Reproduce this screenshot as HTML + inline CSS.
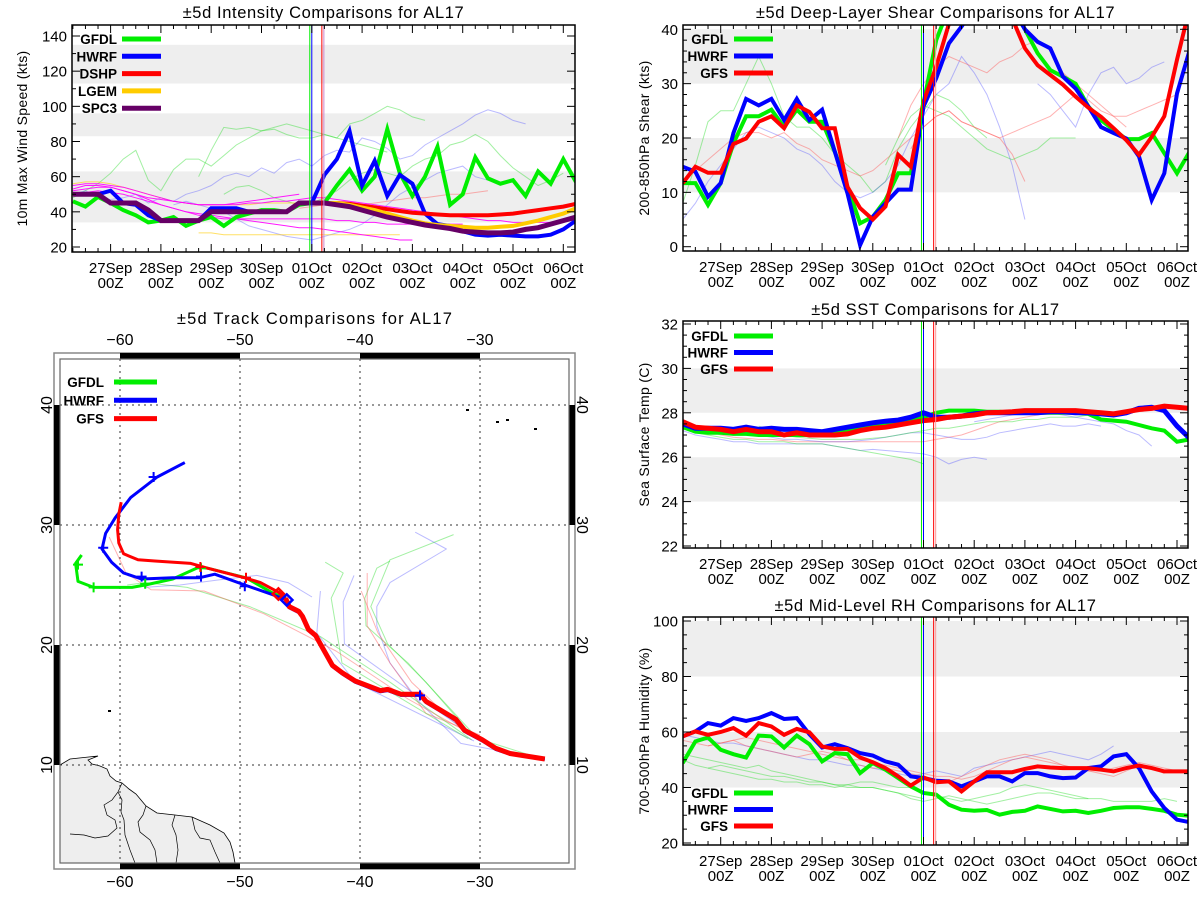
<!DOCTYPE html>
<html><head><meta charset="utf-8"><title>AL17 ±5d Comparisons</title>
<style>
html,body{margin:0;padding:0;background:#fff;}
svg{display:block;font-family:"Liberation Sans",sans-serif;}
</style></head>
<body>
<svg id="fig" xmlns="http://www.w3.org/2000/svg" width="1200" height="900" viewBox="0 0 1200 900">
<rect x="0" y="0" width="1200" height="900" fill="#fff"/>
</svg>
<script>
// ---------- shared time axis ----------
const dateLabels = ['27Sep','28Sep','29Sep','30Sep','01Oct','02Oct','03Oct','04Oct','05Oct','06Oct'];
const hourLabel = '00Z';
const initDays = [3.96, 4.0, 4.2, 4.24];

// ---------- intensity (kt), 6-hourly from day -0.75 ----------
const intGFDL = [46,43,48.5,45,41,38,34,35,37,32,35,37,32,37,39,41,41,40,44,45,45,55,64,52,60,87,62,49,60,77,44,50,71,59,56,58,49,63,56,70,57];
const intHWRF = [50,50,50,52,45,44,38,35,35,35,35,42,42,42,40,40,40,40,45,45,61,70,86,55,69,49,61,56,39,33,32,29,27,26.5,27,26.5,26,26,27,30,35];
const intDSHP = [50,50,50,45,45,45,41,35,35,35,35,40,40,40,40,40,40,40,45,45,45,45,44.5,43.5,42.5,41.5,40.5,39.5,39,38.5,38,38,38,38,38.5,39,40,41,42,43,44.5];
const intLGEM = [50,50,50,45,45,45,41,35,35,35,35,40,40,40,40,40,40,40,45,45,45,45,44,42.5,41,39,37,35,33.5,32.5,32,31.5,31,31,31.5,32,33.5,35,37,39,42];
const intSPC3 = [50,50,50,45,45,45,41,35,35,35,35,40,40,40,40,40,40,40,45,45,45,44,43,41,39,37,35.5,34,32.5,31.5,30.5,29,28.5,28,28,28.5,30,31,33,35,37];
const intThinGreen1 = [48,52,56,62,70,75,58,52,64,70,70,66,72,78,82,86,88,90,88,86,84,82,90,92,96,100,98,94,92];
const intThinGreen2 = [60,75,88,87,88,86,87,84,82,82,84,82,80,78,76,74];
const intThinGreen3 = [50,54,55,52,48,46,44,45,48,52,58,62,64,62,60,66,70,72,78,80,84,80,72,65,60,55,58,62];
const intThinBlue1 = [50,52,48,47,48,50,45,48,46,50,52,55,60,62,60,65,62,68,70,66,72,75,74,82,80,76,70,72,78,82,86,90,95,98,96,92,90];
const intThinBlue2 = [44,46,44,42,40,36,32,30,28,26,25,24,26,28,30,33,38,44,50,54,58,62,64,66,60,58];
const intThinMag1 = [53,55,55,54,52,50,47,44,42,40,39,38,37,36,35,34,33,32,31,31,30,29,28,27,26,25,24,24];
const intThinMag2 = [55,56,56,55,54,52,50,48,46,45,44,44,44,45,46,47,48,49,50];
const intThinMag3 = [52,53,54,54,52,50,48,47,46,45,44,44,44,44,45,45,46,46,47,48,48,47,46,45,44,43,42,41,40,39,38,37,36,35,35,34,34,34,34,35,35];
const intThinMag4 = [50,51,52,51,50,48,46,44,42,40,38,37,36,36,36,36,36,36,36,36,36,35,35,34,34,33,33,33,33,33,33,33];
const intThinYel1 = [56,57,57,56,54,52,50,48,46,45,44,44,44,44,44,45,45,45,45,45,44];
const intThinYel2 = [28,28,27,27,27,27,27,27,27,27,27,27,27,27,27,27,27];
const intThinRed1 = [42,43,44,44,44,44,45,46,47,48,48,49,50,50,51,52];

// ---------- shear (kt) ----------
const shGFDL = [11.7,11.7,7.7,11.7,19,24,24,25.2,22,25.2,23,23,17.5,11,4.3,5.5,8.6,13.5,13.5,26.4,38,44,46,47,47,46,44,40,35.6,32.5,31.3,30,25.8,23.3,21.5,19.8,19.8,20.9,17.2,13.5,17.5];
const shHWRF = [14.7,13.8,9.2,11.7,20.9,27.2,26,27.2,23.3,27.2,23.3,25.2,17.5,9.8,0.3,5.5,8,10.5,10.5,25.8,31,37.4,40.5,44,46,46,44,40,37.7,36.5,31.3,29.1,25.8,22,20.9,19.9,16.6,8.6,13.5,28.2,36.2];
const shGFS = [11.7,14.7,13.6,13.6,18.9,19.9,23,24,21.8,26,24.8,21.8,21.8,11,7.1,5,7.4,16.9,14.7,26.7,33.1,41,44,46,47,46,42,36.5,33.4,31.6,29.8,27.6,25.6,23.9,21.8,19.6,16.9,20.2,24,34.4,44];
const shThinG1 = [8,15,23,25,25,30,35,30,24,22,22,20,17,15,13,10,12,18,22,25,28,27,25,22,20];
const shThinB1 = [5,8,12,15,18,21,22,21,20,18,17,15,12,10,9,10,12,15,20,24,28,30,35,32,28,22,15,5];
const shThinR1 = [12,14,16,18,20,21,21,20,21,19,18,16,15,14,13,14,16,18,20,22,24,25,23,22,21,20,17,12];
const shThinR2 = [20,26,30,33,35,34,33,32,34,35,37,38,36,32,30,28,26,24,22];
const shThinB2 = [30,28,25,22,28,32,33,30,31,33,34];
const shThinG2 = [15,20,24,26,25,24,22,20,18,17,16,17,18,20,20,20];
const shThinR3 = [18,22,24,25,23,22,21,20,21,22,23,24,26,28,27,25,24,24,25,26,27,28];

// ---------- SST (C) ----------
const sstGFDL = [27.35,27.15,27.1,27.1,27.05,27.05,27.0,27.0,27.0,27.0,27.0,27.05,27.1,27.2,27.3,27.4,27.5,27.6,27.7,27.8,28.0,28.1,28.1,28.1,28.05,28.05,28.0,28.05,28.0,28.0,28.0,28.0,27.95,27.7,27.65,27.6,27.45,27.3,27.2,26.7,26.8];
const sstHWRF = [27.5,27.3,27.3,27.3,27.25,27.35,27.25,27.3,27.25,27.25,27.2,27.15,27.25,27.35,27.45,27.55,27.62,27.67,27.8,28.0,27.8,27.8,27.85,27.95,28.0,28.0,28.0,28.0,28.0,28.05,28.05,28.0,28.0,27.95,27.9,28.0,28.2,28.25,28.1,27.4,26.85];
const sstGFS = [27.6,27.35,27.3,27.25,27.15,27.25,27.15,27.15,27.0,27.1,27.0,27.0,27.0,27.05,27.2,27.3,27.35,27.45,27.55,27.65,27.7,27.8,27.85,27.9,28.0,28.02,28.05,28.1,28.1,28.1,28.1,28.1,28.05,28.0,27.95,28.05,28.15,28.2,28.3,28.25,28.2];
const sstThinB1 = [27.2,27.0,26.9,26.8,26.7,26.7,26.6,26.6,26.6,26.6,26.6,26.6,26.5,26.4,26.3,26.35,26.3,26.25,26.2,26.15,26.0,25.7,25.9,26.0,25.9];
const sstThinG1 = [27.3,27.1,27.0,26.9,26.8,26.8,26.7,26.7,26.7,26.6,26.6,26.6,26.5,26.4,26.3,26.2,26.1,26.0,25.9,25.7];
const sstThinR1 = [27.7,27.4,27.2,27.0,26.9,26.85,26.8,26.8,26.75,26.7,26.7,26.7,26.7,26.7,26.7,26.7,26.7,26.7,26.7,26.7,26.8,26.9,27.0,27.2,27.4,27.6,27.7,27.8,27.9,28.0];
const sstThinB2 = [27.3,27.1,27.0,26.9,26.8,26.8,26.75,26.7,26.7,26.7,26.75,26.8,26.9,27.0,27.1,27.1,27.0,26.9,26.8,26.8,26.9,27.1,27.2,27.3,27.4,27.5,27.4,27.4,27.5,27.4];
const sstThinG2 = [27.4,27.2,27.0,26.9,26.85,26.8,26.8,26.8,26.8,26.85,26.9,27.0,27.1,27.2,27.3,27.3,27.4,27.5,27.6,27.6,27.6,27.7,27.7,27.8,27.8,27.8,27.9,28.0];
const sstThinB3 = [27.6,27.7,27.8,27.9,28.0,28.0,28.0,27.9,27.8,27.7,27.6,27.5,27.2,27.0,26.5];

// ---------- mid-level RH (%) ----------
const rhGFDL = [48.8,56.6,58,53.6,52,50.8,58.7,58.4,54.4,58.7,55.6,49.4,52.4,52,45.2,48.8,46.4,43.4,40.4,38,37.4,33.8,32,31.6,31.9,30.2,31.2,31.6,33.2,32.3,31.4,31.6,30.8,31.6,32.6,32.9,32.9,32.3,31.6,30.2,29.8];
const rhHWRF = [58.4,60.2,63.2,62.3,65,64,65,66.8,64.7,65,59.2,54.4,55.6,54.2,52.4,51.5,49.4,48.2,44,43.4,42.4,42.2,40.4,42.2,44,44,42.2,45.2,45.2,44,43.4,43.6,47,47.6,51.2,52,47,38.6,32.6,28.4,27.5];
const rhGFS = [58.4,60.2,59,60,61.4,58.7,63.2,62,59,61.1,59.9,54.8,53.9,53.9,50.8,49.1,47,44,40.7,43.6,41.9,42.2,38.6,42.2,45.5,45.5,45.5,46.7,47.6,47.2,47,47,47,46.4,45.8,47,47.9,47,45.8,45.8,45.8];
const rhThinG1 = [52,51,50,49,48,47,48,46,45,44,43,42,41,40,40,40,39,38,37,36];
const rhThinG2 = [50,48,47,48,47,46,45,44,44,43,42,42,41,41,40,40,39,38,36,35,36,37,36,35,34,35,36,37,38,38,37,36,36];
const rhThinG3 = [47,46,45,44,43,43,42,42,41,41,40,41,42,42,41,40,40,38,37,36,35,36,37,38,40,41,40,39,38,37,36,36,35,35,35,35,36,35];
const rhThinB1 = [59,58,57,56,56,55,54,53,52,51,50,50,49,48,48,47,46,45,44,45,46,45,44,47,48,49,50,51,52,53,52,51,50,52,55];
const rhThinR1 = [57,56,55,56,57,55,54,53,52,51,52,53,52,50,48,47,47,46,45,44,43,42,44,46,48,50,51,52,51,50,48,47,46,45,44,46,48,47,45];
const rhThinR2 = [55,56,57,58,57,56,55,54,53,52,51,50,50,49,48,47,46,45,44,44,43,44,46,48,50,51,50,49,48,47,46,46,47,48,49,48,47,46,45];

// ---------- track (lon/lat) ----------
const trkGFSLon = [-24.6,-27.5,-28.7,-29.8,-31.3,-32.0,-34.5,-35.0,-36.6,-37.7,-38.3,-40.4,-41.5,-42.3,-43.2,-43.7,-44.3,-44.8,-45.1,-45.9,-46.2,-46.8,-48.3,-49.6,-52.7,-54.1,-57.1,-58.5,-59.7,-60.1,-60.2,-60.1,-59.9];
const trkGFSLat = [10.5,10.96,11.4,12.1,12.9,13.8,15.3,15.9,15.9,16.3,16.2,17.0,17.7,18.3,19.9,20.8,21.3,22.4,22.8,23.2,23.9,24.4,25.2,25.6,26.4,26.8,27.0,27.1,27.6,28.5,29.6,30.9,31.9];
const trkHWRFLon = [-24.6,-27.5,-28.7,-29.8,-31.3,-32.0,-34.5,-35.0,-36.6,-37.7,-38.3,-40.4,-41.5,-42.3,-43.2,-43.7,-44.3,-44.8,-45.1,-45.9,-46.1,-47.3,-49.6,-52.1,-53.4,-55.6,-58.2,-59.7,-60.7,-61.5,-61.2,-60.4,-59.1,-56.9,-54.6];
const trkHWRFLat = [10.45,10.9,11.3,12.0,12.8,13.7,15.2,15.8,15.8,16.2,16.1,16.9,17.6,18.2,19.8,20.7,21.2,22.3,22.7,23.1,23.75,24.2,25.0,25.9,25.6,25.6,25.5,26.0,26.9,28.0,29.3,30.6,32.3,34.0,35.2];
const trkGFDLLon = [-24.6,-27.5,-28.7,-29.8,-31.3,-32.0,-34.5,-35.0,-36.6,-37.7,-38.3,-40.4,-41.5,-42.3,-43.2,-43.7,-44.3,-44.8,-45.1,-45.9,-46.2,-47.4,-49.5,-51.5,-52.7,-53.4,-55.6,-57.9,-59.0,-62.2,-63.5,-63.7,-63.2];
const trkGFDLLat = [10.5,10.95,11.35,12.05,12.85,13.75,15.25,15.85,15.85,16.25,16.15,16.95,17.65,18.25,19.85,20.75,21.25,22.35,22.75,23.15,23.85,24.4,25.6,26.1,26.4,26.5,25.5,25.0,24.8,24.8,25.3,26.8,27.5];
const crossGFDLLon = [-63.5,-62.2,-57.9,-53.25];
const crossGFDLLat = [26.7,24.8,25.1,26.4];
const crossHWRFLon = [-61.4,-58.2,-53.25,-49.6,-57.2,-35.0];
const crossHWRFLat = [28.1,25.7,25.7,24.9,34.0,15.8];
const crossGFSLon = [-49.5,-53.3];
const crossGFSLat = [25.6,26.5];
const thinTrkB1Lon = [-24.8,-31.6,-35.1,-37.5,-38.6,-38.6,-37.5,-32.8,-35.4];
const thinTrkB1Lat = [10.5,11.8,15.3,18.5,21.6,23.2,25.2,28.0,29.4];
const thinTrkG1Lon = [-24.8,-30.5,-34.5,-37.7,-39.1,-37.5,-32.2];
const thinTrkG1Lat = [10.5,12.3,16.9,20.1,23.2,27.1,29.2];
const thinTrkG2Lon = [-30.0,-36.0,-39.5,-39.6,-38.6,-37.5];
const thinTrkG2Lat = [12.0,18.5,21.6,23.9,26.4,27.0];
const thinTrkR1Lon = [-30.0,-34.5,-37.5,-39.4,-39.4];
const thinTrkR1Lat = [12.5,14.3,18.5,21.6,26.0];
const thinTrkR2Lon = [-31.0,-35.7,-38.5,-39.9];
const thinTrkR2Lat = [12.5,16.9,21.0,24.5];
const thinTrkB2Lon = [-30.5,-40.4,-43.6,-43.3];
const thinTrkB2Lat = [12.0,16.9,21.0,24.5];
const thinTrkG3Lon = [-31.0,-41.5,-42.4,-41.4,-42.9];
const thinTrkG3Lat = [12.2,18.5,23.9,26.0,26.9];
const thinTrkB3Lon = [-30.0,-41.3,-41.4,-40.5];
const thinTrkB3Lat = [12.0,20.1,23.6,25.8];
const thinTrkG4Lon = [-30.7,-37.5,-43.3,-49.2,-54.4,-57.9,-59.4];
const thinTrkG4Lat = [12.1,16.9,20.7,23.2,24.8,25.2,25.0];
const thinTrkR3Lon = [-29.0,-36.0,-42.0,-48.0,-53.0,-57.4,-59.5,-60.9];
const thinTrkR3Lat = [11.6,15.5,19.5,22.6,24.5,24.6,26.0,29.0];
const thinTrkB4Lon = [-44.0,-46.0,-48.6,-52.0,-55.0,-58.0];
const thinTrkB4Lat = [24.0,25.2,25.8,25.4,25.0,24.8];

// ================= drawing =================
const NS = 'http://www.w3.org/2000/svg';
const svg = document.getElementById('fig');
function mk(tag, attrs, parent){
  const e = document.createElementNS(NS, tag);
  for (const k in attrs) e.setAttribute(k, attrs[k]);
  (parent || svg).appendChild(e);
  return e;
}
const FONT = '"Liberation Sans", sans-serif';
function dayOfIndex(i){ return -0.75 + i*0.25; }

function timePanel(cfg){
  const g = mk('g', {});
  
  
  const xOf = d => cfg.d0x + d*cfg.pxDay;
  const yOf = v => cfg.yA + (v - cfg.vA)*(cfg.yB - cfg.yA)/(cfg.vB - cfg.vA);
  const clipId = cfg.name + '-clip';
  const cp = mk('clipPath', {id: clipId}, g);
  mk('rect', {x: cfg.x0, y: cfg.y0, width: cfg.x1-cfg.x0, height: cfg.y1-cfg.y0}, cp);
  // bands
  cfg.bands.forEach(b => {
    const ya = Math.max(cfg.y0, yOf(b[1])), yb = Math.min(cfg.y1, yOf(b[0]));
    const r = mk('rect', {x: cfg.x0, y: ya, width: cfg.x1-cfg.x0, height: yb-ya, fill: '#eeeeee'}, g);
    
    
  });
  // series
  const plot = mk('g', {'clip-path': 'url(#' + clipId + ')'}, g);
  
  
  cfg.series.forEach(s => {
    const pts = s.vals.map((v, k) => xOf(dayOfIndex(s.start + k)).toFixed(1) + ',' + yOf(v).toFixed(1)).join(' ');
    const pl = mk('polyline', {points: pts, fill: 'none', stroke: s.color, 'stroke-width': s.w, 'stroke-opacity': s.op || 1, 'stroke-linejoin': 'miter'}, plot);
    
    
  });
  // init lines
  cfg.vlines.forEach(vl => {
    const x = xOf(vl.d);
    const l = mk('line', {x1: x, x2: x, y1: cfg.y0, y2: cfg.y1, stroke: vl.color, 'stroke-width': 1}, g);
    
    
  });
  // frame
  const fr = mk('rect', {x: cfg.x0, y: cfg.y0, width: cfg.x1-cfg.x0, height: cfg.y1-cfg.y0, fill: 'none', stroke: '#000', 'stroke-width': 1.5}, g);
  
  
  // x ticks
  for (let i = 0; i <= 40; i++) {
    const d = dayOfIndex(i);
    const x = xOf(d);
    if (x <= cfg.x0 + 0.5 || x >= cfg.x1 - 0.5) continue;
    const major = Math.abs(d - Math.round(d)) < 1e-6;
    const L = major ? 8 : 4;
    const t1 = mk('line', {x1: x, x2: x, y1: cfg.y1, y2: cfg.y1 - L, stroke: '#000', 'stroke-width': 1}, g);
    
    
    const t2 = mk('line', {x1: x, x2: x, y1: cfg.y0, y2: cfg.y0 + L, stroke: '#000', 'stroke-width': 1}, g);
    
    
  }
  dateLabels.forEach((lab, k) => {
    const x = xOf(k);
    const t = mk('text', {x: x, y: cfg.y1 + 21, 'text-anchor': 'middle', 'font-size': 15, 'font-family': FONT, fill: '#000'}, g);
    t.textContent = lab;
    
    
    const t2 = mk('text', {x: x, y: cfg.y1 + 36, 'text-anchor': 'middle', 'font-size': 15, 'font-family': FONT, fill: '#000'}, g);
    t2.textContent = hourLabel;
    
    
  });
  // y ticks
  for (let v = cfg.tickMin; v <= cfg.tickMax + 1e-9; v += cfg.minor) {
    const y = yOf(v);
    if (y < cfg.y0 - 0.5 || y > cfg.y1 + 0.5) continue;
    const isMajor = Math.abs((v - cfg.tickMin)/cfg.major - Math.round((v - cfg.tickMin)/cfg.major)) < 1e-6;
    const L = isMajor ? 8 : 4;
    const a = mk('line', {x1: cfg.x0, x2: cfg.x0 + L, y1: y, y2: y, stroke: '#000', 'stroke-width': 1}, g);
    
    
    const b = mk('line', {x1: cfg.x1, x2: cfg.x1 - L, y1: y, y2: y, stroke: '#000', 'stroke-width': 1}, g);
    
    
    if (isMajor) {
      const t = mk('text', {x: cfg.x0 - 5, y: y + 5.5, 'text-anchor': 'end', 'font-size': 15, 'font-family': FONT, fill: '#000'}, g);
      t.textContent = String(Math.round(v));
      
      
    }
  }
  // titles
  const tt = mk('text', {x: (cfg.x0 + cfg.x1)/2, y: cfg.titleY, 'text-anchor': 'middle', 'font-size': 16.5, 'letter-spacing': 0.6, 'font-family': FONT, fill: '#000'}, g);
  tt.textContent = cfg.title;
  
  
  const ym = (cfg.y0 + cfg.y1)/2;
  const yt = mk('text', {x: 0, y: 0, transform: 'translate(' + cfg.ytitleX + ',' + ym + ') rotate(-90)', 'text-anchor': 'middle', 'font-size': 14, 'letter-spacing': 0.3, 'font-family': FONT, fill: '#000'}, g);
  yt.textContent = cfg.ytitle;
  
  
  // legend
  cfg.legend.forEach((e, k) => {
    const y = cfg.legY + k*cfg.legDy;
    const t = mk('text', {x: cfg.legTextX, y: y + 5, 'text-anchor': 'end', 'font-size': 13.5, 'font-weight': 'bold', 'font-family': FONT, fill: '#000'}, g);
    t.textContent = e.label;
    
    
    const l = mk('line', {x1: cfg.legLineX, x2: cfg.legLineX + 39, y1: y, y2: y, stroke: e.color, 'stroke-width': 5}, g);
    
    
  });
}

const GREEN = '#00ee00', BLUE = '#0000ff', RED = '#ff0000', YEL = '#ffcc00', PURP = '#660066', MAG = '#ff00ff';
const LG = '#33dd33', LB = '#5555ff', LR = '#ff5555';
const stdVlines = [{d: initDays[0], color: GREEN}, {d: initDays[1], color: BLUE}, {d: initDays[2], color: RED}, {d: initDays[3], color: '#cc88cc'}];
const rightVlines = [{d: initDays[0], color: GREEN}, {d: initDays[1], color: BLUE}, {d: initDays[2], color: RED}, {d: initDays[3], color: '#ff9999'}];
const stdLegend = [{label: 'GFDL', color: GREEN}, {label: 'HWRF', color: BLUE}, {label: 'GFS', color: RED}];

timePanel({
  name: 'intensity-chart', title: '±5d Intensity Comparisons for AL17', titleY: 18,
  ytitle: '10m Max Wind Speed (kts)', ytitleX: 27,
  x0: 72, x1: 575, y0: 25, y1: 252, d0x: 110.6, pxDay: 50.3,
  vA: 20, yA: 247, vB: 140, yB: 36,
  tickMin: 20, tickMax: 140, major: 20, minor: 10,
  bands: [[34, 63], [83, 96], [113, 135]],
  vlines: stdVlines,
  legY: 39, legDy: 17.3, legTextX: 117, legLineX: 122,
  legend: [{label: 'GFDL', color: GREEN}, {label: 'HWRF', color: BLUE}, {label: 'DSHP', color: RED}, {label: 'LGEM', color: YEL}, {label: 'SPC3', color: PURP}],
  series: [
    {name: 'thin-green-1', vals: intThinGreen1, start: 0, color: LG, w: 1, op: 0.45},
    {name: 'thin-green-2', vals: intThinGreen2, start: 10, color: LG, w: 1, op: 0.45},
    {name: 'thin-green-3', vals: intThinGreen3, start: 12, color: LG, w: 1, op: 0.45},
    {name: 'thin-blue-1', vals: intThinBlue1, start: 0, color: LB, w: 1, op: 0.4},
    {name: 'thin-blue-2', vals: intThinBlue2, start: 8, color: LB, w: 1, op: 0.4},
    {name: 'thin-red-1', vals: intThinRed1, start: 18, color: LR, w: 1, op: 0.45},
    {name: 'thin-yellow-1', vals: intThinYel1, start: 0, color: YEL, w: 1, op: 0.6},
    {name: 'thin-yellow-2', vals: intThinYel2, start: 10, color: YEL, w: 1, op: 0.6},
    {name: 'thin-magenta-1', vals: intThinMag1, start: 0, color: MAG, w: 1, op: 0.9},
    {name: 'thin-magenta-2', vals: intThinMag2, start: 0, color: MAG, w: 1, op: 0.9},
    {name: 'thin-magenta-3', vals: intThinMag3, start: 0, color: MAG, w: 1, op: 0.9},
    {name: 'thin-magenta-4', vals: intThinMag4, start: 0, color: MAG, w: 1, op: 0.9},
    {name: 'gfdl-intensity-line', vals: intGFDL, start: 0, color: GREEN, w: 4},
    {name: 'hwrf-intensity-line', vals: intHWRF, start: 0, color: BLUE, w: 4},
    {name: 'dshp-intensity-line', vals: intDSHP, start: 0, color: RED, w: 4},
    {name: 'lgem-intensity-line', vals: intLGEM, start: 0, color: YEL, w: 4},
    {name: 'spc3-intensity-line', vals: intSPC3, start: 0, color: PURP, w: 5}
  ]
});

timePanel({
  name: 'shear-chart', title: '±5d Deep-Layer Shear Comparisons for AL17', titleY: 18,
  ytitle: '200-850hPa Shear (kts)', ytitleX: 649,
  x0: 683, x1: 1188, y0: 25, y1: 251, d0x: 720.7, pxDay: 50.7,
  vA: 0, yA: 246.7, vB: 40, yB: 29.3,
  tickMin: 0, tickMax: 40, major: 10, minor: 2,
  bands: [[10, 20], [30, 40]],
  vlines: rightVlines,
  legY: 39, legDy: 17, legTextX: 728, legLineX: 734,
  legend: stdLegend,
  series: [
    {name: 'thin-green-1', vals: shThinG1, start: 0, color: LG, w: 1, op: 0.45},
    {name: 'thin-green-2', vals: shThinG2, start: 16, color: LG, w: 1, op: 0.45},
    {name: 'thin-blue-1', vals: shThinB1, start: 0, color: LB, w: 1, op: 0.4},
    {name: 'thin-blue-2', vals: shThinB2, start: 28, color: LB, w: 1, op: 0.4},
    {name: 'thin-red-1', vals: shThinR1, start: 0, color: LR, w: 1, op: 0.45},
    {name: 'thin-red-2', vals: shThinR2, start: 17, color: LR, w: 1, op: 0.45},
    {name: 'thin-red-3', vals: shThinR3, start: 18, color: LR, w: 1, op: 0.45},
    {name: 'gfdl-shear-line', vals: shGFDL, start: 0, color: GREEN, w: 4},
    {name: 'hwrf-shear-line', vals: shHWRF, start: 0, color: BLUE, w: 4},
    {name: 'gfs-shear-line', vals: shGFS, start: 0, color: RED, w: 4}
  ]
});

timePanel({
  name: 'sst-chart', title: '±5d SST Comparisons for AL17', titleY: 315,
  ytitle: 'Sea Surface Temp (C)', ytitleX: 649,
  x0: 683, x1: 1188, y0: 321, y1: 548, d0x: 720.7, pxDay: 50.7,
  vA: 22, yA: 546, vB: 32, yB: 324,
  tickMin: 22, tickMax: 32, major: 2, minor: 0.5,
  bands: [[24, 26], [28, 30]],
  vlines: rightVlines,
  legY: 336, legDy: 16.5, legTextX: 728, legLineX: 734,
  legend: stdLegend,
  series: [
    {name: 'thin-blue-1', vals: sstThinB1, start: 0, color: LB, w: 1, op: 0.4},
    {name: 'thin-green-1', vals: sstThinG1, start: 0, color: LG, w: 1, op: 0.45},
    {name: 'thin-red-1', vals: sstThinR1, start: 0, color: LR, w: 1, op: 0.45},
    {name: 'thin-blue-2', vals: sstThinB2, start: 4, color: LB, w: 1, op: 0.4},
    {name: 'thin-green-2', vals: sstThinG2, start: 6, color: LG, w: 1, op: 0.45},
    {name: 'thin-blue-3', vals: sstThinB3, start: 23, color: LB, w: 1, op: 0.4},
    {name: 'gfdl-sst-line', vals: sstGFDL, start: 0, color: GREEN, w: 4},
    {name: 'hwrf-sst-line', vals: sstHWRF, start: 0, color: BLUE, w: 5},
    {name: 'gfs-sst-line', vals: sstGFS, start: 0, color: RED, w: 5}
  ]
});

timePanel({
  name: 'rh-chart', title: '±5d Mid-Level RH Comparisons for AL17', titleY: 611,
  ytitle: '700-500hPa Humidity (%)', ytitleX: 649,
  x0: 683, x1: 1188, y0: 617, y1: 845, d0x: 720.7, pxDay: 50.7,
  vA: 20, yA: 843, vB: 100, yB: 621,
  tickMin: 20, tickMax: 100, major: 20, minor: 5,
  bands: [[40, 60], [80, 100]],
  vlines: rightVlines,
  legY: 793, legDy: 16.5, legTextX: 728, legLineX: 734,
  legend: stdLegend,
  series: [
    {name: 'thin-green-1', vals: rhThinG1, start: 0, color: LG, w: 1, op: 0.45},
    {name: 'thin-green-2', vals: rhThinG2, start: 0, color: LG, w: 1, op: 0.45},
    {name: 'thin-green-3', vals: rhThinG3, start: 2, color: LG, w: 1, op: 0.45},
    {name: 'thin-blue-1', vals: rhThinB1, start: 0, color: LB, w: 1, op: 0.4},
    {name: 'thin-red-1', vals: rhThinR1, start: 0, color: LR, w: 1, op: 0.45},
    {name: 'thin-red-2', vals: rhThinR2, start: 2, color: LR, w: 1, op: 0.45},
    {name: 'gfdl-rh-line', vals: rhGFDL, start: 0, color: GREEN, w: 4},
    {name: 'hwrf-rh-line', vals: rhHWRF, start: 0, color: BLUE, w: 4},
    {name: 'gfs-rh-line', vals: rhGFS, start: 0, color: RED, w: 4}
  ]
});

// ---------------- track map ----------------
(function(){
  const g = mk('g', {});
  
  
  const lx = lon => 120 + (lon + 60)*12;
  const ly = lat => 765 - (lat - 10)*12;
  const X0 = 60, X1 = 569, Y0 = 359, Y1 = 863;
  const cp = mk('clipPath', {id: 'map-clip'}, g);
  mk('rect', {x: X0, y: Y0, width: X1-X0, height: Y1-Y0}, cp);
  // outer frame
  const of = mk('rect', {x: 54, y: 353, width: 521, height: 516, fill: 'none', stroke: '#888', 'stroke-width': 1.5}, g);
  
  
  // land
  const land = mk('path', {d: 'M60,765 L70,759 L98,756 L88,760 L92,764 L100,766 L107,769 L110,776 L116,781 L122,783 L129,789 L136,794 L141,800 L146,806 L157,813 L175,815 L192,817 L210,825 L224,833 L230,842 L233,852 L235,863 L60,863 Z', fill: '#eeeeee', stroke: '#000', 'stroke-width': 0.8}, g);
  
  
  const bord = mk('path', {d: 'M122,783 L118,792 L112,800 L104,805 L107,815 L115,820 L117,828 L108,836 L95,838 L84,835 L70,834 M118,792 L122,800 L121,812 L124,820 L125,835 L130,850 L135,863 M146,806 L143,815 L138,822 L140,832 L150,840 L155,850 L157,863 M175,815 L172,825 L176,835 L178,850 L176,863 M192,817 L195,830 L200,838 L210,840 L215,852 L220,863', fill: 'none', stroke: '#000', 'stroke-width': 0.7}, g);
  
  
  // islands
  [[466,409],[496,421],[506,419],[534,428],[108,710]].forEach(p => {
    const isl = mk('rect', {x: p[0], y: p[1], width: 3, height: 2, fill: '#000'}, g);
    
    
  });
  // grid
  [-60, -50, -40, -30].forEach(lon => {
    const l = mk('line', {x1: lx(lon), x2: lx(lon), y1: Y0, y2: Y1, stroke: '#333', 'stroke-width': 1, 'stroke-dasharray': '2,4'}, g);
    
    
    const t = mk('text', {x: lx(lon), y: 345, 'text-anchor': 'middle', 'font-size': 16, 'font-family': FONT, fill: '#000'}, g);
    t.textContent = '−' + Math.abs(lon);
    
    
    const b = mk('text', {x: lx(lon), y: 887, 'text-anchor': 'middle', 'font-size': 16, 'font-family': FONT, fill: '#000'}, g);
    b.textContent = '−' + Math.abs(lon);
    
    
  });
  [10, 20, 30, 40].forEach(lat => {
    const l = mk('line', {x1: X0, x2: X1, y1: ly(lat), y2: ly(lat), stroke: '#333', 'stroke-width': 1, 'stroke-dasharray': '2,4'}, g);
    
    
    const t = mk('text', {x: 0, y: 0, transform: 'translate(52,' + ly(lat) + ') rotate(-90)', 'text-anchor': 'middle', 'font-size': 16, 'font-family': FONT, fill: '#000'}, g);
    t.textContent = String(lat);
    
    
    const r = mk('text', {x: 0, y: 0, transform: 'translate(577,' + ly(lat) + ') rotate(90)', 'text-anchor': 'middle', 'font-size': 16, 'font-family': FONT, fill: '#000'}, g);
    r.textContent = String(lat);
    
    
  });
  // frame bars
  [[-60, -50], [-40, -30]].forEach(p => {
    const a = mk('rect', {x: lx(p[0]), y: 353, width: lx(p[1]) - lx(p[0]), height: 6, fill: '#000'}, g);
    
    
    const b = mk('rect', {x: lx(p[0]), y: 863, width: lx(p[1]) - lx(p[0]), height: 6, fill: '#000'}, g);
    
    
  });
  [[30, 40], [10, 20]].forEach(p => {
    const a = mk('rect', {x: 54, y: ly(p[1]), width: 6, height: ly(p[0]) - ly(p[1]), fill: '#000'}, g);
    
    
    const b = mk('rect', {x: 569, y: ly(p[1]), width: 6, height: ly(p[0]) - ly(p[1]), fill: '#000'}, g);
    
    
  });
  const inf = mk('rect', {x: X0, y: Y0, width: X1-X0, height: Y1-Y0, fill: 'none', stroke: '#666', 'stroke-width': 1.2}, g);
  
  
  // tracks
  const pg = mk('g', {'clip-path': 'url(#map-clip)'}, g);
  
  
  function track(lons, lats, color, w, op, name){
    const pts = lons.map((lo, k) => lx(lo).toFixed(1) + ',' + ly(lats[k]).toFixed(1)).join(' ');
    const p = mk('polyline', {points: pts, fill: 'none', stroke: color, 'stroke-width': w, 'stroke-opacity': op, 'stroke-linejoin': 'round'}, pg);
    
    
  }
  function crosses(lons, lats, color, name){
    lons.forEach((lo, k) => {
      const x = lx(lo), y = ly(lats[k]);
      const c = mk('path', {d: 'M' + (x-5) + ',' + y + 'H' + (x+5) + 'M' + x + ',' + (y-5) + 'V' + (y+5), stroke: color, 'stroke-width': 2, fill: 'none'}, pg);
      
      
    });
  }
  track(thinTrkB1Lon, thinTrkB1Lat, LB, 1, 0.4, 'thin-track-blue-1');
  track(thinTrkG1Lon, thinTrkG1Lat, LG, 1, 0.45, 'thin-track-green-1');
  track(thinTrkG2Lon, thinTrkG2Lat, LG, 1, 0.45, 'thin-track-green-2');
  track(thinTrkR1Lon, thinTrkR1Lat, LR, 1, 0.45, 'thin-track-red-1');
  track(thinTrkR2Lon, thinTrkR2Lat, LR, 1, 0.45, 'thin-track-red-2');
  track(thinTrkB2Lon, thinTrkB2Lat, LB, 1, 0.4, 'thin-track-blue-2');
  track(thinTrkG3Lon, thinTrkG3Lat, LG, 1, 0.45, 'thin-track-green-3');
  track(thinTrkB3Lon, thinTrkB3Lat, LB, 1, 0.4, 'thin-track-blue-3');
  track(thinTrkG4Lon, thinTrkG4Lat, LG, 1, 0.45, 'thin-track-green-4');
  track(thinTrkR3Lon, thinTrkR3Lat, LR, 1, 0.45, 'thin-track-red-3');
  track(thinTrkB4Lon, thinTrkB4Lat, LB, 1, 0.4, 'thin-track-blue-4');
  track(trkGFDLLon, trkGFDLLat, GREEN, 3, 1, 'gfdl-track');
  track(trkHWRFLon, trkHWRFLat, BLUE, 3, 1, 'hwrf-track');
  track(trkGFSLon.slice(0, 21), trkGFSLat.slice(0, 21), RED, 5, 1, 'gfs-past-track');
  track(trkGFSLon.slice(20), trkGFSLat.slice(20), RED, 3, 1, 'gfs-track');
  crosses(crossGFDLLon, crossGFDLLat, GREEN, 'gfdl-day-marker');
  crosses(crossHWRFLon, crossHWRFLat, BLUE, 'hwrf-day-marker');
  crosses(crossGFSLon, crossGFSLat, RED, 'gfs-day-marker');
  const dm1 = mk('rect', {x: lx(-46.8) - 4, y: ly(24.25) - 4, width: 8, height: 8, fill: 'none', stroke: RED, 'stroke-width': 2.5, transform: 'rotate(45 ' + lx(-46.8) + ' ' + ly(24.25) + ')'}, pg);
  
  
  const dm2 = mk('rect', {x: lx(-46.1) - 4, y: ly(23.75) - 4, width: 8, height: 8, fill: 'none', stroke: BLUE, 'stroke-width': 2.5, transform: 'rotate(45 ' + lx(-46.1) + ' ' + ly(23.75) + ')'}, pg);
  
  
  // legend
  stdLegend.forEach((e, k) => {
    const y = 382 + k*18.3;
    const t = mk('text', {x: 104, y: y + 5, 'text-anchor': 'end', 'font-size': 13.5, 'font-weight': 'bold', 'font-family': FONT, fill: '#000'}, g);
    t.textContent = e.label;
    
    
    const l = mk('line', {x1: 114, x2: 157, y1: y, y2: y, stroke: e.color, 'stroke-width': 5}, g);
    
    
  });
  const tt = mk('text', {x: 315, y: 324, 'text-anchor': 'middle', 'font-size': 16.5, 'letter-spacing': 1.2, 'font-family': FONT, fill: '#000'}, g);
  tt.textContent = '±5d Track Comparisons for AL17';
  
  
})();
</script>
</body></html>
